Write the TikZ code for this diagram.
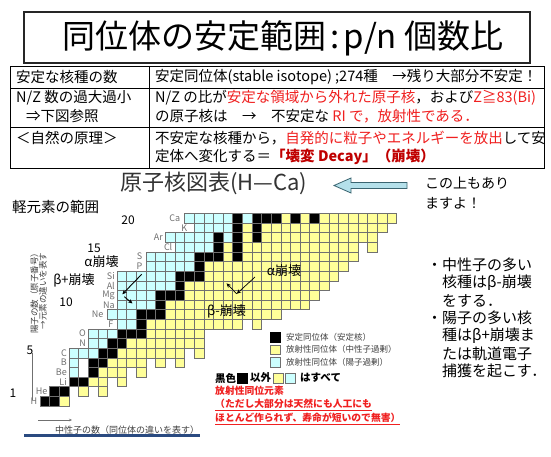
\documentclass[tikz,border=0pt]{standalone}
\usepackage{fontspec}
\setmainfont{Noto Sans CJK JP}
\usetikzlibrary{arrows.meta}
\definecolor{cK}{HTML}{000000}
\definecolor{cY}{HTML}{FFFF99}
\definecolor{cB}{HTML}{CCFFFF}
\definecolor{rd}{HTML}{F02020}
\definecolor{drd}{HTML}{C00000}
\definecolor{lbl}{HTML}{707070}
\definecolor{txg}{HTML}{404040}
\definecolor{arrfill}{HTML}{B4E0EA}
\definecolor{arrdraw}{HTML}{3A6470}
\definecolor{navy}{HTML}{2A4A80}
\newcommand{\setfs}[1]{\fontsize{#1}{#1}\selectfont}
\begin{document}
\begin{tikzpicture}[x=1pt,y=-1pt,
  txt/.style={inner sep=0pt, anchor=west},
  tab/.style={txt, font=\setfs{14.5}},
  note/.style={txt, font=\setfs{15}},
  cellst/.style={draw=lbl, line width=0.35pt},
  elab/.style={inner sep=0pt, anchor=east, text=lbl, font=\setfs{9}},
  num/.style={inner sep=0pt, font=\setfs{12}},
  decay/.style={inner sep=0pt, font=\setfs{13}},
  legtxt/.style={txt, text=txg, font=\setfs{8.5}},
  legsq/.style={draw=lbl, line width=0.4pt, minimum size=9.5pt, inner sep=0pt},
  chartarrow/.style={-{Stealth[length=4.5pt,width=4pt]}, line width=0.9pt},
  redtxt/.style={txt, text=rd, font=\setfs{9.8}\bfseries}]
\useasboundingbox (0,0) rectangle (551,457);
\fill[white] (0,0) rectangle (551,457);

% title
\node[draw=black!85, line width=1.3pt, minimum width=506pt, minimum height=51pt, inner sep=0pt] (titlebox) at (277,37.5) {};
\node[inner sep=0pt, font=\setfs{33}] (title) at (283,38) {同位体の安定範囲\hspace{0.12em}:\hspace{0.12em}p/n 個数比};

% table
\draw[line width=0.9pt] (10,66) rectangle (544,168);
\draw[line width=0.9pt] (10,88) -- (544,88) (10,127) -- (544,127) (149,66) -- (149,168);
\node[tab] (r1l) at (16,77) {安定な核種の数};
\node[tab] (r1r) at (155,77) {安定同位体(stable isotope) ;274種　→残り大部分不安定！};
\node[tab] (r2l) at (16,98) {N/Z 数の過大過小};
\node[tab] (r2l2) at (26,116) {⇒下図参照};
\node[tab] (r2r) at (155,98) {N/Z の比が\textcolor{rd}{安定な領域から外れた原子核}，および\textcolor{rd}{Z≧83(Bi)}};
\node[tab] (r2r2) at (155,116) {の原子核は　→　不安定な \textcolor{rd}{RI で，放射性である．}};
\node[tab] (r3l) at (16,138) {＜自然の原理＞};
\node[tab] (r3r) at (155,138) {不安定な核種から，\textcolor{rd}{自発的に粒子やエネルギーを放出}して安};
\node[tab] (r3r2) at (155,157) {定体へ変化する＝\textcolor{drd}{\bfseries 「壊変 Decay」（崩壊）}};

% chart title and arrow
\node[inner sep=0pt, text=black!80, font=\setfs{22}] (ctitle) at (213.5,183) {原子核図表(H—Ca)};
\draw[fill=arrfill, draw=arrdraw, line width=0.8pt] (334,185.5) -- (351,178) -- (351,182.5) -- (407,182.5) -- (407,188.5) -- (351,188.5) -- (351,193) -- cycle;
\node[txt, font=\setfs{14}] (more1) at (425,183) {この上もあり};
\node[txt, font=\setfs{14}] (more2) at (425,203) {ますよ！};
\node[txt, font=\setfs{14.5}] (light) at (12,207) {軽元素の範囲};

% cells
\foreach \zz/\na/\nb/\cc in {
 1/0/1/K, 1/2/2/Y,
 2/1/2/K, 2/4/4/Y, 2/6/6/Y,
 3/3/4/K, 3/5/6/Y, 3/8/8/Y,
 4/3/3/B, 4/5/5/K, 4/6/8/Y, 4/10/10/Y,
 5/3/3/B, 5/5/6/K, 5/7/10/Y, 5/12/12/Y, 5/14/14/Y,
 6/3/5/B, 6/6/7/K, 6/8/14/Y, 6/16/16/Y,
 7/5/6/B, 7/7/8/K, 7/9/16/Y,
 8/5/7/B, 8/8/10/K, 8/11/16/Y,
 9/8/9/B, 9/10/10/K, 9/11/20/Y, 9/22/22/Y,
 10/7/9/B, 10/10/12/K, 10/13/24/Y,
 11/8/11/B, 11/12/12/K, 11/13/27/Y,
 12/8/11/B, 12/12/14/K, 12/15/28/Y,
 13/8/13/B, 13/14/14/K, 13/15/29/Y,
 14/8/13/B, 14/14/16/K, 14/17/30/Y,
 15/11/15/B, 15/16/16/K, 15/17/31/Y,
 16/11/15/B, 16/16/18/K, 16/19/19/Y, 16/20/20/K, 16/21/32/Y,
 17/14/17/B, 17/18/18/K, 17/19/19/Y, 17/20/20/K, 17/21/32/Y, 17/34/34/Y,
 18/13/17/B, 18/18/18/K, 18/19/19/B, 18/20/20/K, 18/21/21/Y, 18/22/22/K, 18/23/34/Y,
 19/16/19/B, 19/20/20/K, 19/21/21/Y, 19/22/22/K, 19/23/35/Y,
 20/15/19/B, 20/20/20/K, 20/21/21/B, 20/22/24/K, 20/25/25/Y, 20/26/26/K, 20/27/27/Y, 20/28/28/K, 20/29/36/Y}{
  \foreach \nn in {\na,...,\nb}{
    \draw[cellst, fill=c\cc] ({40+9.63*\nn},{213.3+9.63*(20-\zz)}) rectangle ++(9.63,9.63);
  }
}

% element labels
\foreach \el/\lx/\zz in {H/37.5/1, He/47.5/2, Li/67/3, Be/67/4, B/67/5, C/67/6, N/86/7, O/86/8, F/113.5/9, Ne/103.5/10, Na/115/11, Mg/115/12, Al/115/13, Si/115/14, P/142.5/15, S/142.5/16, Cl/172.5/17, Ar/163/18, K/187.5/19, Ca/180.5/20}{
  \node[elab] (lab\el) at (\lx,{218.1+9.63*(20-\zz)}) {\el};
}

% numbers
\node[num] (n20) at (128,220) {20};
\node[num] (n15) at (94,248.5) {15};
\node[num] (n10) at (66,302) {10};
\node[num] (n5) at (30,350) {5};
\node[num] (n1) at (13,393) {1};

% decay labels
\node[decay] (alphaL) at (101.5,262) {α崩壊};
\node[decay] (betaP) at (74,280) {β+崩壊};
\node[decay] (alphaR) at (284,271) {α崩壊};
\node[decay] (betaM) at (226.5,311.5) {β-崩壊};

% decay arrows
\coordinate (a1s) at (141.7,274.3);
\coordinate (a1e) at (122.3,294.3);
\coordinate (a2s) at (124.3,296.7);
\coordinate (a2e) at (132.5,303.5);
\coordinate (a3s) at (255,277);
\coordinate (a3e) at (236.7,293.8);
\coordinate (a4e) at (226.5,283.3);
\draw[chartarrow] (a1s) -- (a1e);
\draw[chartarrow] (a2s) -- (a2e);
\draw[chartarrow, line width=0.7pt] (a3s) -- (a3e);
\draw[chartarrow, line width=0.7pt] (a3e) -- (a4e);

% axes
\node[inner sep=0pt, rotate=90, align=center, text=txg, font=\setfs{8.5}] (ylab) at (38.5,291) {陽子の数（原子番号）\\→元素の違いを表す};
\coordinate (yax1) at (32,353);
\coordinate (yax2) at (32,400);
\draw[lbl, line width=0.6pt] (yax1) -- (yax2);
\coordinate (xax1) at (38,420);
\coordinate (xax2) at (72,420);
\draw[lbl, line width=0.6pt, -{Stealth[length=3pt,width=2.5pt]}] (xax1) -- (xax2);
\node[txt, text=txg, font=\setfs{9}] (xlab) at (55,430) {中性子の数（同位体の違いを表す）};
\draw[navy, line width=2.2pt] (24,435.5) -- (200,435.5);

% legend
\node[legsq, fill=black, draw=black] (lgK) at (275,337) {};
\node[legsq, fill=cY] (lgY) at (275,349.5) {};
\node[legsq, fill=cB] (lgB) at (275,362) {};
\node[legtxt] (lgKt) at (286,337) {安定同位体（安定核）};
\node[legtxt] (lgYt) at (286,349.5) {放射性同位体（中性子過剰）};
\node[legtxt] (lgBt) at (286,362) {放射性同位体（陽子過剰）};

\node[txt, font=\setfs{10.5}\bfseries] (kuro) at (215,378) {黒色};
\node[legsq, fill=black, draw=black] (sqK) at (242,378) {};
\node[txt, font=\setfs{10.5}\bfseries] (igai) at (250,378) {以外};
\node[legsq, fill=cY] (sqY) at (278,378) {};
\node[legsq, fill=cB] (sqB) at (290,378) {};
\node[txt, font=\setfs{10.5}\bfseries] (subete) at (300,378) {はすべて};
\node[redtxt] (red1) at (215,391) {放射性同位元素};
\node[redtxt] (red2) at (215,405) {\underline{（ただし大部分は天然にも人工にも}};
\node[redtxt] (red3) at (215,418.5) {\underline{ほとんど作られず、寿命が短いので無害）}};

% notes
\node[note] (nt1) at (442,265) {\llap{・}中性子の多い};
\node[note] (nt2) at (442,283) {核種はβ-崩壊};
\node[note] (nt3) at (442,300.5) {をする．};
\node[note] (nt4) at (442,318) {\llap{・}陽子の多い核};
\node[note] (nt5) at (442,335.5) {種はβ+崩壊ま};
\node[note] (nt6) at (442,353.5) {たは軌道電子};
\node[note] (nt7) at (442,371) {捕獲を起こす．};
\end{tikzpicture}
\end{document}
